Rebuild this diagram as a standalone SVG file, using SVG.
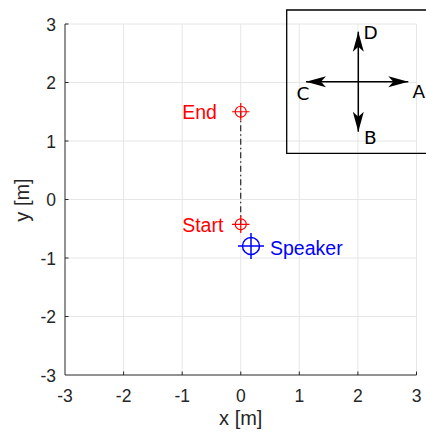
<svg xmlns="http://www.w3.org/2000/svg" width="426" height="434" viewBox="0 0 426 434">
<style>
.grid{stroke:#e6e6e6;stroke-width:1;fill:none}
.axis{stroke:#262626;stroke-width:1;fill:none}
.tick{font-family:"Liberation Sans",Arial,sans-serif;font-size:17.5px;fill:#262626}
.lab{font-family:"Liberation Sans",Arial,sans-serif;font-size:20px;fill:#262626}
.red{font-family:"Liberation Sans",Arial,sans-serif;font-size:19.5px;fill:#ff0000}
.blue{font-family:"Liberation Sans",Arial,sans-serif;font-size:19.5px;fill:#0000ff}
.dir{font-family:"DejaVu Sans",sans-serif;font-size:18.5px;fill:#000}
.arr{stroke:#000;stroke-width:1.5;fill:none}
</style>
<defs>
<marker id="ah" markerUnits="userSpaceOnUse" orient="auto" refX="0" refY="0" markerWidth="30" markerHeight="30" overflow="visible">
<path d="M0,0 L-20,-5.5 L-15,0 L-20,5.5 Z" fill="#000"/>
</marker>
</defs>
<rect width="426" height="434" fill="#fff"/>
<g id="grid" class="grid">
<path d="M123.6,24V375M182.2,24V375M240.75,24V375M299.3,24V375M357.9,24V375M416.5,24V375M65,24H416.5M65,82.5H416.5M65,141H416.5M65,199.5H416.5M65,258H416.5M65,316.5H416.5"/>
</g>
<g id="axes">
<path class="axis" d="M65,24V375H416.5"/>
<path class="axis" d="M65,24h3.5M65,82.5h3.5M65,141h3.5M65,199.5h3.5M65,258h3.5M65,316.5h3.5M123.6,375v-3.5M182.2,375v-3.5M240.75,375v-3.5M299.3,375v-3.5M357.9,375v-3.5M416.5,375v-3.5"/>
<g class="tick" text-anchor="end">
<text x="56" y="30.5">3</text>
<text x="56" y="89">2</text>
<text x="56" y="147.5">1</text>
<text x="56" y="206">0</text>
<text x="56" y="264.5">-1</text>
<text x="56" y="323">-2</text>
<text x="56" y="381.5">-3</text>
</g>
<g class="tick" text-anchor="middle">
<text x="65" y="402">-3</text>
<text x="123.6" y="402">-2</text>
<text x="182.2" y="402">-1</text>
<text x="240.75" y="402">0</text>
<text x="299.3" y="402">1</text>
<text x="357.9" y="402">2</text>
<text x="416.5" y="402">3</text>
</g>
<text class="lab" x="240.75" y="425" text-anchor="middle">x [m]</text>
<text class="lab" transform="translate(29,200) rotate(-90)" text-anchor="middle">y [m]</text>
</g>
<g id="connectors">
<line x1="240.75" y1="111.75" x2="240.75" y2="224.3" stroke="#000" stroke-width="1" stroke-dasharray="6,3,1.5,3"/>
<line class="arr" x1="358.3" y1="81.7" x2="408.3" y2="81.7" marker-end="url(#ah)"/>
<line class="arr" x1="358.3" y1="81.7" x2="306" y2="81.7" marker-end="url(#ah)"/>
<line class="arr" x1="358.3" y1="81.7" x2="358.3" y2="31.7" marker-end="url(#ah)"/>
<line class="arr" x1="358.3" y1="81.7" x2="358.3" y2="131.7" marker-end="url(#ah)"/>
</g>
<g id="end">
<circle cx="240.75" cy="111.75" r="5.5" fill="none" stroke="#ff0000" stroke-width="1.2"/>
<path d="M232,111.75H249.5M240.75,103V120.5" stroke="#ff0000" stroke-width="1.2"/>
<text class="red" x="182.2" y="119.3">End</text>
</g>
<g id="start">
<circle cx="240.75" cy="224.3" r="5.5" fill="none" stroke="#ff0000" stroke-width="1.2"/>
<path d="M232,224.3H249.5M240.75,215.5V233" stroke="#ff0000" stroke-width="1.2"/>
<text class="red" x="182.2" y="231.7">Start</text>
</g>
<g id="speaker">
<circle cx="251" cy="246" r="8.5" fill="none" stroke="#0000ff" stroke-width="1.5"/>
<path d="M238,246H264M251,233V259" stroke="#0000ff" stroke-width="1.5"/>
<text class="blue" x="270" y="254.5">Speaker</text>
</g>
<g id="inset">
<path d="M430,10H286.7V153.3H430" fill="none" stroke="#000" stroke-width="1.3"/>
<text class="dir" x="363.5" y="38.5">D</text>
<text class="dir" x="412.5" y="97.5">A</text>
<text class="dir" x="296.5" y="100">C</text>
<text class="dir" x="364" y="144">B</text>
</g>
</svg>
